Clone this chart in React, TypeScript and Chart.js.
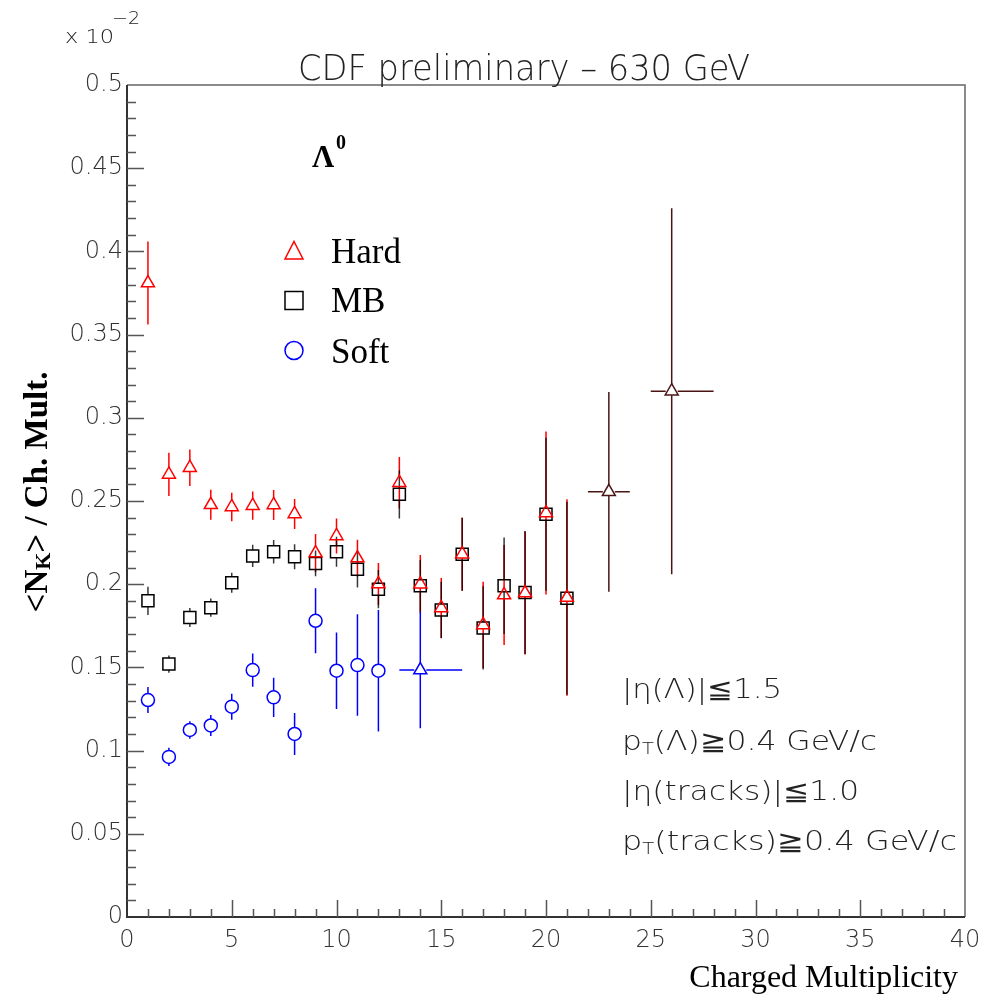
import React, { useEffect, useRef } from 'react';
import { Chart, registerables } from 'chart.js';

Chart.register(...registerables);

// ---------- data (values in units of 10^-2) ----------
const multiplicity = [1, 2, 3, 4, 5, 6, 7, 8, 9, 10, 11, 12, 13, 14, 15, 16, 17, 18, 19, 20, 21];

const hardValues = [0.381, 0.266, 0.270, 0.2477, 0.2464, 0.2472, 0.2476, 0.2422, 0.2187, 0.229, 0.2157,
  0.2001, 0.261, 0.200, 0.1857, 0.218, 0.1755, 0.1935, 0.1947, 0.2428, 0.192];
const hardErrors = [0.025, 0.013, 0.011, 0.009, 0.0085, 0.0085, 0.009, 0.009, 0.0115, 0.0105, 0.011,
  0.0126, 0.0155, 0.0175, 0.018, 0.022, 0.026, 0.030, 0.037, 0.049, 0.059];

const mbValues = [0.190, 0.152, 0.180, 0.1859, 0.2009, 0.217, 0.2195, 0.2165, 0.2125, 0.2195, 0.209,
  0.197, 0.254, 0.199, 0.1845, 0.218, 0.1737, 0.199, 0.195, 0.242, 0.1915];
const mbErrors = [0.0085, 0.0052, 0.0057, 0.0055, 0.006, 0.0067, 0.007, 0.0075, 0.0077, 0.009, 0.011,
  0.0115, 0.0145, 0.0155, 0.017, 0.022, 0.025, 0.029, 0.037, 0.046, 0.058];

const softX = [1, 2, 3, 4, 5, 6, 7, 8, 9, 10, 11, 12];
const softValues = [0.1304, 0.0962, 0.1124, 0.1151, 0.1264, 0.1484, 0.132, 0.110, 0.178, 0.148, 0.1514, 0.148];
const softErrors = [0.0078, 0.0055, 0.0053, 0.0063, 0.0078, 0.010, 0.0118, 0.0126, 0.0195, 0.023, 0.0305, 0.0365];

const softMergedX = [14];
const softMergedValues = [0.1484];
const softMergedErrors = [0.035];
const softMergedXLow = [13];
const softMergedXHigh = [16];

const highX = [23, 26];
const highValues = [0.2555, 0.316];
const highErrors = [0.060, 0.110];
const highXLow = [22, 25];
const highXHigh = [24, 28];

const xRange = [0, 40];
const yRange = [0, 0.5];
const xMajorStep = 5;
const xMinorStep = 1;
const yMajorStep = 0.05;
const yMinorStep = 0.01;

const legendLabels = ['Hard', 'MB', 'Soft'];
const cutLines = ['|η(Λ)|≦1.5', 'pT(Λ)≧0.4 GeV/c', '|η(tracks)|≦1.0', 'pT(tracks)≧0.4 GeV/c'];

// ---------- helpers ----------
const LIGHT = (s: number) => `200 ${s}px "DejaVu Sans", sans-serif`;
const SERIF = (s: number, bold = false) => `${bold ? 'bold ' : ''}${s}px "Liberation Serif", "Times New Roman", serif`;

type Seg = { t: string; font: string; dy?: number };

function segWidth(ctx: CanvasRenderingContext2D, segs: Seg[]) {
  let w = 0;
  for (const s of segs) { ctx.font = s.font; w += ctx.measureText(s.t).width; }
  return w;
}

function drawRich(ctx: CanvasRenderingContext2D, segs: Seg[], x: number, y: number, target?: number) {
  const total = segWidth(ctx, segs);
  ctx.save();
  ctx.translate(x, y);
  if (target) ctx.scale(target / total, 1);
  let cx = 0;
  ctx.textBaseline = 'alphabetic';
  ctx.textAlign = 'left';
  for (const s of segs) {
    ctx.font = s.font;
    ctx.fillText(s.t, cx, s.dy || 0);
    cx += ctx.measureText(s.t).width;
  }
  ctx.restore();
}

function buildPoints(xs: number[], ys: number[], errs: number[], xl?: number[], xh?: number[]) {
  return xs.map((x, i) => ({ x, y: ys[i], yErr: errs[i], xLo: xl ? xl[i] : undefined, xHi: xh ? xh[i] : undefined }));
}

const errorBarPlugin = {
  id: 'errorBars',
  beforeDatasetsDraw(chart: any) {
    const { ctx, scales } = chart;
    const xs = scales.x, ys = scales.y;
    const list = chart.data.datasets.map((d: any) => d).sort((a: any, b: any) => a.errLayer - b.errLayer);
    for (const ds of list) {
      ctx.save();
      ctx.strokeStyle = ds.errColor;
      ctx.lineWidth = 1.5;
      const gT = ds.gapTop, gB = ds.gapBottom, gS = ds.gapSide;
      for (const p of ds.data) {
        const px = xs.getPixelForValue(p.x);
        const py = ys.getPixelForValue(p.y);
        const top = ys.getPixelForValue(p.y + p.yErr);
        const bot = ys.getPixelForValue(p.y - p.yErr);
        ctx.beginPath();
        if (top < py - gT) { ctx.moveTo(px, top); ctx.lineTo(px, py - gT); }
        if (bot > py + gB) { ctx.moveTo(px, py + gB); ctx.lineTo(px, bot); }
        if (p.xLo !== undefined) {
          const l = xs.getPixelForValue(p.xLo), r = xs.getPixelForValue(p.xHi);
          ctx.moveTo(l, py); ctx.lineTo(px - gS, py);
          ctx.moveTo(px + gS, py); ctx.lineTo(r, py);
        }
        ctx.stroke();
      }
      ctx.restore();
    }
  },
};

const decorPlugin = {
  id: 'decor',
  afterDraw(chart: any) {
    const { ctx, chartArea: a, scales } = chart;
    const xs = scales.x, ys = scales.y;
    ctx.save();
    // frame
    ctx.lineWidth = 1.5;
    ctx.strokeStyle = '#666';
    ctx.beginPath();
    ctx.moveTo(a.left, a.top); ctx.lineTo(a.right, a.top); ctx.lineTo(a.right, a.bottom);
    ctx.stroke();
    ctx.lineWidth = 2;
    ctx.strokeStyle = '#333';
    ctx.beginPath();
    ctx.moveTo(a.left, a.top); ctx.lineTo(a.left, a.bottom); ctx.lineTo(a.right, a.bottom);
    ctx.stroke();
    // ticks
    ctx.lineWidth = 1.5;
    ctx.strokeStyle = '#555';
    ctx.beginPath();
    const nY = Math.round((yRange[1] - yRange[0]) / yMinorStep);
    for (let i = 1; i < nY; i++) {
      const v = yRange[0] + i * yMinorStep;
      const py = Math.round(ys.getPixelForValue(v)) + 0.5;
      const major = i % Math.round(yMajorStep / yMinorStep) === 0;
      ctx.moveTo(a.left, py); ctx.lineTo(a.left + (major ? 17 : 9), py);
    }
    const nX = Math.round((xRange[1] - xRange[0]) / xMinorStep);
    for (let i = 1; i < nX; i++) {
      const v = xRange[0] + i * xMinorStep;
      const px = Math.round(xs.getPixelForValue(v)) + 0.5;
      const major = i % Math.round(xMajorStep / xMinorStep) === 0;
      ctx.moveTo(px, a.bottom); ctx.lineTo(px, a.bottom - (major ? 17 : 8));
    }
    ctx.stroke();

    ctx.fillStyle = '#222';
    // title
    drawRich(ctx, [{ t: 'CDF preliminary – 630 GeV', font: LIGHT(36) }], 298, 80, 452);
    // exponent
    drawRich(ctx, [{ t: 'x 10', font: LIGHT(20) }], 65, 43, 49);
    drawRich(ctx, [{ t: '−2', font: LIGHT(18) }], 112, 24, 28);

    // axis titles
    ctx.fillStyle = '#000';
    const yTitle: Seg[] = [
      { t: '<N', font: SERIF(33, true) },
      { t: 'K', font: SERIF(22, true), dy: 3 },
      { t: '> / Ch. Mult.', font: SERIF(33, true) },
    ];
    const yw = segWidth(ctx, yTitle);
    ctx.save();
    ctx.translate(47, 492);
    ctx.rotate(-Math.PI / 2);
    drawRich(ctx, yTitle, -yw / 2, 0);
    ctx.restore();
    ctx.textAlign = 'right';
    ctx.font = SERIF(32);
    ctx.fillText('Charged Multiplicity', 958, 987);

    // Lambda label
    drawRich(ctx, [{ t: 'Λ', font: SERIF(31, true) }], 312, 167);
    drawRich(ctx, [{ t: '0', font: SERIF(20, true) }], 336, 149);

    // legend
    ctx.lineWidth = 1.5;
    ctx.strokeStyle = '#ff0000';
    ctx.beginPath();
    ctx.moveTo(294, 241.5); ctx.lineTo(303, 259); ctx.lineTo(285, 259); ctx.closePath();
    ctx.stroke();
    ctx.strokeStyle = '#000';
    ctx.strokeRect(285, 291.5, 18, 18);
    ctx.strokeStyle = '#0000ff';
    ctx.beginPath();
    ctx.arc(294, 350.5, 9, 0, Math.PI * 2);
    ctx.stroke();
    ctx.fillStyle = '#000';
    drawRich(ctx, [{ t: legendLabels[0], font: SERIF(35) }], 331, 263);
    drawRich(ctx, [{ t: legendLabels[1], font: SERIF(35) }], 331, 312);
    drawRich(ctx, [{ t: legendLabels[2], font: SERIF(35) }], 331, 363);

    // cuts text
    ctx.fillStyle = '#222';
    const f = LIGHT(26), fs = LIGHT(16);
    drawRich(ctx, [{ t: cutLines[0], font: f }], 622, 698, 160);
    drawRich(ctx, [{ t: 'p', font: f }, { t: 'T', font: fs, dy: 4 }, { t: cutLines[1].slice(2), font: f }], 622, 750, 255);
    drawRich(ctx, [{ t: cutLines[2], font: f }], 622, 800, 237);
    drawRich(ctx, [{ t: 'p', font: f }, { t: 'T', font: fs, dy: 4 }, { t: cutLines[3].slice(2), font: f }], 622, 850, 335);
    ctx.restore();
  },
};

export default function App() {
  const ref = useRef<HTMLCanvasElement>(null);
  useEffect(() => {
    document.body.style.margin = '0';
    const canvas = ref.current!;
    const chart = new Chart(canvas, {
      type: 'scatter',
      data: {
        datasets: [
          {
            label: 'Soft',
            data: buildPoints(softX, softValues, softErrors),
            pointStyle: 'circle', pointRadius: 6.5, borderColor: '#0000ff', backgroundColor: 'rgba(0,0,0,0)',
            borderWidth: 1.5, errColor: '#0000ff', errLayer: 4, gapTop: 6.5, gapBottom: 6.5, gapSide: 6.5,
          } as any,
          {
            label: 'Soft merged',
            data: buildPoints(softMergedX, softMergedValues, softMergedErrors, softMergedXLow, softMergedXHigh),
            pointStyle: 'triangle', pointRadius: 7.5, borderColor: '#0000ff', backgroundColor: 'rgba(0,0,0,0)',
            borderWidth: 1.5, errColor: '#0000ff', errLayer: 5, gapTop: 7, gapBottom: 4, gapSide: 6,
          } as any,
          {
            label: 'Hard',
            data: buildPoints(multiplicity, hardValues, hardErrors),
            pointStyle: 'triangle', pointRadius: 7.5, borderColor: '#ff0000', backgroundColor: 'rgba(0,0,0,0)',
            borderWidth: 1.5, errColor: '#ff0000', errLayer: 1, gapTop: 7, gapBottom: 4, gapSide: 6,
          } as any,
          {
            label: 'Hard+MB',
            data: buildPoints(highX, highValues, highErrors, highXLow, highXHigh),
            pointStyle: 'triangle', pointRadius: 7.5, borderColor: '#4a1414', backgroundColor: 'rgba(0,0,0,0)',
            borderWidth: 1.5, errColor: '#4a1414', errLayer: 3, gapTop: 7, gapBottom: 4, gapSide: 6,
          } as any,
          {
            label: 'MB',
            data: buildPoints(multiplicity, mbValues, mbErrors),
            pointStyle: 'rect', pointRadius: 8.5, borderColor: '#000', backgroundColor: 'rgba(0,0,0,0)',
            borderWidth: 1.5, errColor: 'rgba(0,0,0,0.78)', errLayer: 2, gapTop: 6, gapBottom: 6, gapSide: 6,
          } as any,
        ],
      },
      options: {
        animation: false,
        responsive: false,
        devicePixelRatio: 1,
        layout: { padding: { left: 0, top: 85, right: 16, bottom: 0 } },
        plugins: { legend: { display: false }, tooltip: { enabled: false }, title: { display: false } },
        elements: { line: { borderWidth: 0 } },
        showLine: false,
        scales: {
          x: {
            type: 'linear',
            min: xRange[0], max: xRange[1],
            grid: { display: false, drawTicks: false },
            border: { display: false },
            ticks: {
              stepSize: xMajorStep, padding: 9, color: '#333',
              font: { family: '"DejaVu Sans"', size: 24, weight: '200' as any },
              maxRotation: 0, autoSkip: false,
              callback: (v: any) => String(Math.round(Number(v))),
            },
            afterFit: (s: any) => { s.height = 80; s.paddingLeft = 0; s.paddingRight = 0; },
          },
          y: {
            type: 'linear',
            min: yRange[0], max: yRange[1],
            grid: { display: false, drawTicks: false },
            border: { display: false },
            ticks: {
              stepSize: yMajorStep, padding: 4, color: '#333',
              font: { family: '"DejaVu Sans"', size: 24, weight: '200' as any },
              autoSkip: false,
              callback: (v: any) => String(parseFloat(Number(v).toFixed(2))),
            },
            afterFit: (s: any) => { s.width = 127; s.paddingTop = 0; s.paddingBottom = 0; },
          },
        },
      } as any,
      plugins: [errorBarPlugin, decorPlugin],
    });
    return () => chart.destroy();
  }, []);
  return <canvas ref={ref} width={981} height={997} style={{ display: 'block', width: 981, height: 997 }} />;
}
